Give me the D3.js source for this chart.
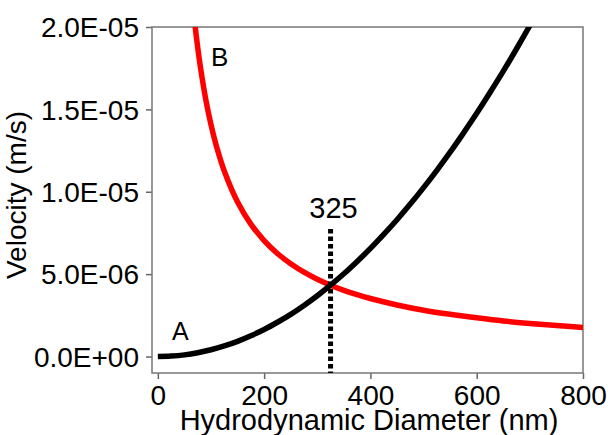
<!DOCTYPE html>
<html><head><meta charset="utf-8">
<script src="https://cdn.jsdelivr.net/npm/d3@7"></script>
<style>html,body{margin:0;padding:0;background:#fff;}svg{display:block;}</style>
</head><body>
<svg id="chart" width="608" height="435"></svg>
<script>
// Curve A (black): hydrodynamic diameter (nm) vs velocity (m/s)
const diamA = [0,25,50,75,100,125,150,175,200,225,250,275,300,325,350,375,400,425,450,475,500,525,550,575,600,625,650,675,700,710];
const velA  = [0,0.026e-6,0.10e-6,0.23e-6,0.41e-6,0.64e-6,0.92e-6,1.26e-6,1.64e-6,2.08e-6,2.56e-6,3.10e-6,3.69e-6,4.33e-6,5.02e-6,5.77e-6,6.56e-6,7.41e-6,8.30e-6,9.25e-6,10.25e-6,11.30e-6,12.40e-6,13.56e-6,14.76e-6,16.02e-6,17.32e-6,18.68e-6,20.09e-6,20.67e-6];
// Curve B (red)
const diamB = [60,70,75,80,90,100,110,125,150,175,200,225,250,275,300,325,350,375,400,450,500,550,600,650,700,750,800];
const velB  = [23.45e-6,20.10e-6,18.76e-6,17.59e-6,15.63e-6,14.07e-6,12.79e-6,11.26e-6,9.38e-6,8.04e-6,7.04e-6,6.25e-6,5.63e-6,5.12e-6,4.69e-6,4.33e-6,4.02e-6,3.75e-6,3.52e-6,3.13e-6,2.81e-6,2.56e-6,2.35e-6,2.16e-6,2.01e-6,1.88e-6,1.76e-6];
const xTicks = [0,200,400,600,800];
const yTicks = [0,5e-6,1e-5,1.5e-5,2e-5];
const crossD = 325;
const crossLabel = "325";
const labelA = "A", labelB = "B";
const xTitle = "Hydrodynamic Diameter (nm)";
const yTitle = "Velocity (m/s)";

const svg = d3.select("#chart");
const L = 152, R = 583, T = 27, B = 373;
const x = d3.scaleLinear().domain([-11, 800]).range([L, R]);
const y = d3.scaleLinear().domain([-1e-6, 2e-5]).range([B, T]);
const font = "'Liberation Sans', Arial, sans-serif";

function fmtE(v){
  const s = v.toExponential(1);
  const [m, e] = s.split("e");
  const sign = e[0] === "-" ? "-" : "+";
  const digits = e.replace(/^[+-]/, "").padStart(2, "0");
  return m + "E" + sign + digits;
}

svg.append("defs").append("clipPath").attr("id","clip")
  .append("rect").attr("x", L).attr("y", T).attr("width", R-L).attr("height", B-T);

// axes
const gx = svg.append("g").attr("transform", `translate(0,${B})`)
  .call(d3.axisBottom(x).tickValues(xTicks).tickSize(6).tickSizeOuter(0).tickPadding(6).tickFormat(d3.format("d")));
const gy = svg.append("g").attr("transform", `translate(${L},0)`)
  .call(d3.axisLeft(y).tickValues(yTicks).tickSize(6).tickSizeOuter(0).tickPadding(7).tickFormat(fmtE));
[gx, gy].forEach(g => {
  g.select(".domain").remove();
  g.selectAll(".tick line").attr("stroke", "#666").attr("stroke-width", 1.5);
  g.selectAll(".tick text").attr("fill", "#000").attr("font-family", font);
});
gx.selectAll(".tick text").attr("font-size", 28);
gy.selectAll(".tick text").attr("font-size", 28).attr("dy", "0.35em");

// frame
svg.append("rect").attr("x", L).attr("y", T).attr("width", R-L).attr("height", B-T)
  .attr("fill", "none").attr("stroke", "#777").attr("stroke-width", 1.5);

const plot = svg.append("g").attr("clip-path", "url(#clip)");
const line = d3.line().x(d => x(d[0])).y(d => y(d[1])).curve(d3.curveCatmullRom);

plot.append("path").datum(diamB.map((d,i)=>[d, velB[i]]))
  .attr("d", line).attr("fill","none").attr("stroke","#ff0000").attr("stroke-width",5.5);
plot.append("path").datum(diamA.map((d,i)=>[d, velA[i]]))
  .attr("d", line).attr("fill","none").attr("stroke","#000").attr("stroke-width",5.5);

// dotted marker at crossing
svg.append("line").attr("x1", x(crossD)).attr("x2", x(crossD))
  .attr("y1", 229).attr("y2", B)
  .attr("stroke", "#000").attr("stroke-width", 5).attr("stroke-dasharray", "4.5 3");

svg.append("text").attr("x", x(crossD)+3).attr("y", 218).attr("text-anchor","middle")
  .attr("font-family", font).attr("font-size", 29).text(crossLabel);
svg.append("text").attr("x", 172).attr("y", 340)
  .attr("font-family", font).attr("font-size", 25).text(labelA);
svg.append("text").attr("x", 211).attr("y", 66)
  .attr("font-family", font).attr("font-size", 26).text(labelB);

// titles
svg.append("text").attr("x", 369).attr("y", 430).attr("text-anchor","middle")
  .attr("font-family", font).attr("font-size", 29).text(xTitle);
svg.append("text").attr("transform", "translate(26,195) rotate(-90)").attr("text-anchor","middle")
  .attr("font-family", font).attr("font-size", 28).text(yTitle);
</script>
</body></html>
